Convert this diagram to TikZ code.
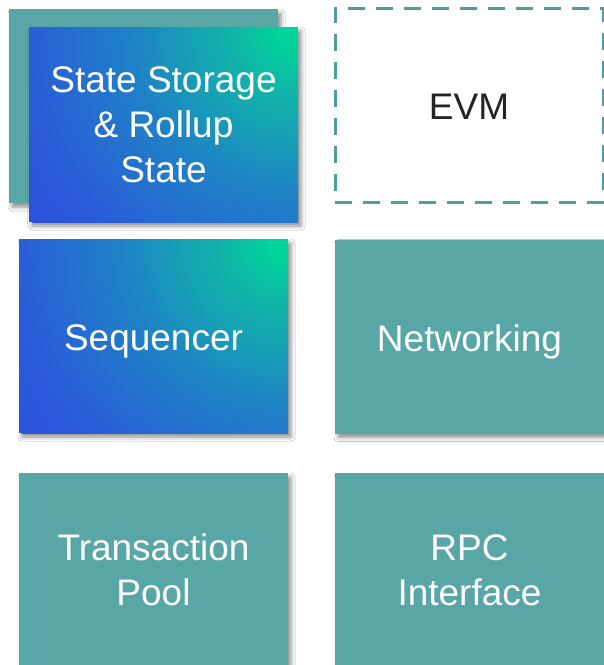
\documentclass[tikz,border=0pt]{standalone}
\usepackage{fontspec}
\setmainfont{Liberation Sans}
\usetikzlibrary{shadows.blur}
\definecolor{tealbox}{HTML}{58A6A6}
\definecolor{tealdash}{HTML}{4F9E9E}
\definecolor{gblue}{HTML}{2C53DC}
\definecolor{gblue2}{HTML}{2A5DD8}
\definecolor{gmid2}{HTML}{2276CC}
\definecolor{gmid}{HTML}{1E82C5}
\definecolor{gmid3}{HTML}{189CB8}
\definecolor{gteal}{HTML}{10B4A8}
\definecolor{ggreen}{HTML}{00D49A}
\definecolor{evmtext}{HTML}{222428}
\pgfdeclareradialshading{cornerglow}{\pgfpoint{0bp}{0bp}}{color(0bp)=(ggreen); color(1.5bp)=(ggreen); color(5bp)=(gteal); color(9bp)=(gmid3); color(12.5bp)=(gmid); color(15.2bp)=(gmid2); color(20.5bp)=(gblue2); color(24bp)=(gblue); color(50bp)=(gblue)}
\tikzset{
  boxbase/.style={rectangle, inner sep=0pt, minimum width=269pt, minimum height=194pt},
  shadowed/.style={blur shadow={shadow xshift=3pt, shadow yshift=-4pt, shadow blur radius=4pt, shadow opacity=45}},
  tealnode/.style={boxbase, fill=tealbox, shadowed},
  gradnode/.style={boxbase, fill=gblue, shadowed,
    path picture={\shade[shading=cornerglow] (path picture bounding box.north east) circle (330pt);}},
  dashnode/.style={boxbase, draw=tealdash, line width=3pt, dash pattern=on 17pt off 11pt},
  lbl/.style={inner sep=0pt, align=center, text=white, font=\fontsize{37}{45}\selectfont},
}
\begin{document}
\begin{tikzpicture}[x=1pt,y=-1pt]
\useasboundingbox (0,0) rectangle (604,665);
\clip (0,0) rectangle (604,665);
\fill[white] (0,0) rectangle (604,665);
\node[tealnode] (back) at (143.5,106) {};
\node[gradnode, minimum height=195pt] (state) at (163.5,124.5) {};
\node[lbl] (statet) at (state.center) {State Storage\\\& Rollup\\State};
\node[dashnode, minimum width=268pt] (evm) at (469,105) {};
\node[lbl, text=evmtext, yshift=-1.5pt] (evmt) at (evm.center) {EVM};
\node[gradnode] (seq) at (153.5,336) {};
\node[lbl, yshift=-5.5pt] (seqt) at (seq.center) {Sequencer};
\node[tealnode] (net) at (469.5,336.5) {};
\node[lbl, yshift=-5pt] (nett) at (net.center) {Networking};
\node[tealnode] (tx) at (153.5,570) {};
\node[lbl] (txt) at (tx.center) {Transaction\\Pool};
\node[tealnode] (rpc) at (469.5,570) {};
\node[lbl] (rpct) at (rpc.center) {RPC\\Interface};
\end{tikzpicture}
\end{document}
